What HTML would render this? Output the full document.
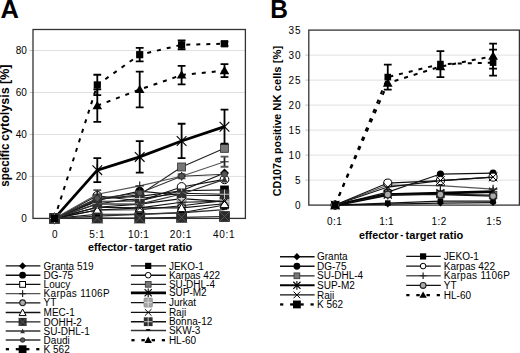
<!DOCTYPE html>
<html><head><meta charset="utf-8"><style>
html,body{margin:0;padding:0;background:#fff;}
body{width:520px;height:353px;overflow:hidden;font-family:"Liberation Sans", sans-serif;}
svg{display:block;}
</style></head><body>
<svg width="520" height="353" viewBox="0 0 520 353">
<line x1="33.0" x2="245.4" y1="176.42" y2="176.42" stroke="#e0e0e0" stroke-width="1"/>
<line x1="33.0" x2="245.4" y1="134.44" y2="134.44" stroke="#e0e0e0" stroke-width="1"/>
<line x1="33.0" x2="245.4" y1="92.47" y2="92.47" stroke="#e0e0e0" stroke-width="1"/>
<line x1="33.0" x2="245.4" y1="50.49" y2="50.49" stroke="#e0e0e0" stroke-width="1"/>
<line x1="29.5" x2="33.0" y1="176.42" y2="176.42" stroke="#c4c4c4" stroke-width="1"/>
<line x1="29.5" x2="33.0" y1="134.44" y2="134.44" stroke="#c4c4c4" stroke-width="1"/>
<line x1="29.5" x2="33.0" y1="92.47" y2="92.47" stroke="#c4c4c4" stroke-width="1"/>
<line x1="29.5" x2="33.0" y1="50.49" y2="50.49" stroke="#c4c4c4" stroke-width="1"/>
<rect x="33.0" y="29.5" width="212.4" height="188.9" fill="none" stroke="#333" stroke-width="1.3"/>
<path d="M54.5,218.4L97.3,201.19L139.7,200.98L181.6,190.69L224.5,173.06" fill="none" stroke="#111" stroke-width="1.1"/><path d="M54.5,213.9L59,218.4L54.5,222.9L50,218.4Z" fill="#000"/><path d="M97.3,196.69L101.8,201.19L97.3,205.69L92.8,201.19Z" fill="#000"/><path d="M139.7,196.48L144.2,200.98L139.7,205.48L135.2,200.98Z" fill="#000"/><path d="M181.6,186.19L186.1,190.69L181.6,195.19L177.1,190.69Z" fill="#000"/><path d="M224.5,168.56L229,173.06L224.5,177.56L220,173.06Z" fill="#000"/>
<path d="M54.5,218.4L97.3,198.46L139.7,196.36L181.6,190.69L224.5,189.86" fill="none" stroke="#111" stroke-width="1.1"/><rect x="50.16" y="214.06" width="8.68" height="8.68" fill="#000"/><rect x="92.96" y="194.12" width="8.68" height="8.68" fill="#000"/><rect x="135.36" y="192.02" width="8.68" height="8.68" fill="#000"/><rect x="177.26" y="186.35" width="8.68" height="8.68" fill="#000"/><rect x="220.16" y="185.52" width="8.68" height="8.68" fill="#000"/>
<path d="M54.5,218.4L97.3,200.56L139.7,191.11L181.6,195.31L224.5,195.52" fill="none" stroke="#111" stroke-width="1.1"/><circle cx="54.5" cy="218.4" r="4.42" fill="#000"/><circle cx="97.3" cy="200.56" r="4.42" fill="#000"/><circle cx="139.7" cy="191.11" r="4.42" fill="#000"/><circle cx="181.6" cy="195.31" r="4.42" fill="#000"/><circle cx="224.5" cy="195.52" r="4.42" fill="#000"/>
<path d="M54.5,218.4L97.3,195.73L139.7,200.98L181.6,186.92L224.5,179.36" fill="none" stroke="#111" stroke-width="1.1"/><circle cx="54.5" cy="218.4" r="4.34" fill="#fff" stroke="#000" stroke-width="1"/><circle cx="97.3" cy="195.73" r="4.34" fill="#fff" stroke="#000" stroke-width="1"/><circle cx="139.7" cy="200.98" r="4.34" fill="#fff" stroke="#000" stroke-width="1"/><circle cx="181.6" cy="186.92" r="4.34" fill="#fff" stroke="#000" stroke-width="1"/><circle cx="224.5" cy="179.36" r="4.34" fill="#fff" stroke="#000" stroke-width="1"/>
<path d="M54.5,218.4L97.3,214.2L139.7,214.2L181.6,212.73L224.5,204.97" fill="none" stroke="#111" stroke-width="1.1"/><rect x="50.73" y="214.63" width="7.54" height="7.54" fill="#fff" stroke="#000" stroke-width="1"/><rect x="93.53" y="210.43" width="7.54" height="7.54" fill="#fff" stroke="#000" stroke-width="1"/><rect x="135.93" y="210.43" width="7.54" height="7.54" fill="#fff" stroke="#000" stroke-width="1"/><rect x="177.83" y="208.96" width="7.54" height="7.54" fill="#fff" stroke="#000" stroke-width="1"/><rect x="220.73" y="201.2" width="7.54" height="7.54" fill="#fff" stroke="#000" stroke-width="1"/>
<path d="M54.5,218.4L97.3,199.51L139.7,194.68L181.6,166.98L224.5,148.3" fill="none" stroke="#222" stroke-width="1.1"/><path d="M97.3,197.83V201.19M93.4,197.83H101.2M93.4,201.19H101.2" stroke="#000" stroke-width="1.8" fill="none"/><path d="M139.7,193V196.36M135.8,193H143.6M135.8,196.36H143.6" stroke="#000" stroke-width="1.8" fill="none"/><path d="M181.6,164.46V169.5M177.7,164.46H185.5M177.7,169.5H185.5" stroke="#000" stroke-width="1.8" fill="none"/><path d="M224.5,145.15V151.45M220.6,145.15H228.4M220.6,151.45H228.4" stroke="#000" stroke-width="1.8" fill="none"/><rect x="50.5" y="214.4" width="8" height="8" fill="#777" stroke="#333" stroke-width="0.8"/><rect x="93.3" y="195.51" width="8" height="8" fill="#777" stroke="#333" stroke-width="0.8"/><rect x="135.7" y="190.68" width="8" height="8" fill="#777" stroke="#333" stroke-width="0.8"/><rect x="177.6" y="162.98" width="8" height="8" fill="#777" stroke="#333" stroke-width="0.8"/><rect x="220.5" y="144.3" width="8" height="8" fill="#777" stroke="#333" stroke-width="0.8"/>
<path d="M54.5,218.4L97.3,194.26L139.7,185.87L181.6,176.21L224.5,161.73" fill="none" stroke="#555" stroke-width="1.1"/><path d="M97.3,190.06V198.46M93.4,190.06H101.2M93.4,198.46H101.2" stroke="#555" stroke-width="1.8" fill="none"/><path d="M181.6,174.11V178.31M177.7,174.11H185.5M177.7,178.31H185.5" stroke="#555" stroke-width="1.8" fill="none"/><path d="M224.5,156.69V166.77M220.6,156.69H228.4M220.6,166.77H228.4" stroke="#555" stroke-width="1.8" fill="none"/><path d="M50.21,218.4H58.79M54.5,214.11V222.69" stroke="#222" stroke-width="1.2" fill="none"/><path d="M93.01,194.26H101.59M97.3,189.97V198.55" stroke="#222" stroke-width="1.2" fill="none"/><path d="M135.41,185.87H143.99M139.7,181.58V190.16" stroke="#222" stroke-width="1.2" fill="none"/><path d="M177.31,176.21H185.89M181.6,171.92V180.5" stroke="#222" stroke-width="1.2" fill="none"/><path d="M220.21,161.73H228.79M224.5,157.44V166.02" stroke="#222" stroke-width="1.2" fill="none"/>
<path d="M54.5,218.4L97.3,170.13L139.7,156.9L181.6,140.95L224.5,126.68" fill="none" stroke="#000" stroke-width="2.8"/><path d="M97.3,158.06V182.19M93.4,158.06H101.2M93.4,182.19H101.2" stroke="#000" stroke-width="1.8" fill="none"/><path d="M139.7,141.16V172.64M135.8,141.16H143.6M135.8,172.64H143.6" stroke="#000" stroke-width="1.8" fill="none"/><path d="M181.6,123.74V158.16M177.7,123.74H185.5M177.7,158.16H185.5" stroke="#000" stroke-width="1.8" fill="none"/><path d="M224.5,109.68V143.68M220.6,109.68H228.4M220.6,143.68H228.4" stroke="#000" stroke-width="1.8" fill="none"/><path d="M49.64,213.54L59.36,223.26M59.36,213.54L49.64,223.26M54.5,212.46V224.34" stroke="#000" stroke-width="1.1" fill="none"/><path d="M92.44,165.27L102.16,174.99M102.16,165.27L92.44,174.99M97.3,164.19V176.07" stroke="#000" stroke-width="1.1" fill="none"/><path d="M134.84,152.04L144.56,161.76M144.56,152.04L134.84,161.76M139.7,150.96V162.84" stroke="#000" stroke-width="1.1" fill="none"/><path d="M176.74,136.09L186.46,145.81M186.46,136.09L176.74,145.81M181.6,135.01V146.89" stroke="#000" stroke-width="1.1" fill="none"/><path d="M219.64,121.82L229.36,131.54M229.36,121.82L219.64,131.54M224.5,120.74V132.62" stroke="#000" stroke-width="1.1" fill="none"/>
<path d="M54.5,218.4L97.3,210L139.7,209.79L181.6,205.81L224.5,200.56" fill="none" stroke="#111" stroke-width="1.1"/><circle cx="54.5" cy="218.4" r="3.77" fill="#aaa" stroke="#222" stroke-width="1.1"/><circle cx="97.3" cy="210" r="3.77" fill="#aaa" stroke="#222" stroke-width="1.1"/><circle cx="139.7" cy="209.79" r="3.77" fill="#aaa" stroke="#222" stroke-width="1.1"/><circle cx="181.6" cy="205.81" r="3.77" fill="#aaa" stroke="#222" stroke-width="1.1"/><circle cx="224.5" cy="200.56" r="3.77" fill="#aaa" stroke="#222" stroke-width="1.1"/>
<path d="M54.5,218.4L97.3,207.28L139.7,204.13L181.6,198.67L224.5,201.61" fill="none" stroke="#111" stroke-width="1.1"/><rect x="49.96" y="213.54" width="9.07" height="9.72" rx="0.8" fill="#a4a4a4" stroke="#888" stroke-width="0.7"/><path d="M49.96,218.4H59.04M54.5,213.54V223.26" stroke="#e0e0e0" stroke-width="0.8"/><rect x="92.76" y="202.42" width="9.07" height="9.72" rx="0.8" fill="#a4a4a4" stroke="#888" stroke-width="0.7"/><path d="M92.76,207.28H101.84M97.3,202.42V212.14" stroke="#e0e0e0" stroke-width="0.8"/><rect x="135.16" y="199.27" width="9.07" height="9.72" rx="0.8" fill="#a4a4a4" stroke="#888" stroke-width="0.7"/><path d="M135.16,204.13H144.24M139.7,199.27V208.99" stroke="#e0e0e0" stroke-width="0.8"/><rect x="177.06" y="193.81" width="9.07" height="9.72" rx="0.8" fill="#a4a4a4" stroke="#888" stroke-width="0.7"/><path d="M177.06,198.67H186.14M181.6,193.81V203.53" stroke="#e0e0e0" stroke-width="0.8"/><rect x="219.96" y="196.75" width="9.07" height="9.72" rx="0.8" fill="#a4a4a4" stroke="#888" stroke-width="0.7"/><path d="M219.96,201.61H229.04M224.5,196.75V206.47" stroke="#e0e0e0" stroke-width="0.8"/>
<path d="M54.5,218.4L97.3,210L139.7,207.91L181.6,207.91L224.5,203.71" fill="none" stroke="#111" stroke-width="1.1"/><path d="M54.5,214.03L58.88,222.28L50.12,222.28Z" fill="#fff" stroke="#000" stroke-width="1"/><path d="M97.3,205.63L101.67,213.88L92.92,213.88Z" fill="#fff" stroke="#000" stroke-width="1"/><path d="M139.7,203.53L144.07,211.78L135.32,211.78Z" fill="#fff" stroke="#000" stroke-width="1"/><path d="M181.6,203.53L185.97,211.78L177.22,211.78Z" fill="#fff" stroke="#000" stroke-width="1"/><path d="M224.5,199.33L228.88,207.58L220.12,207.58Z" fill="#fff" stroke="#000" stroke-width="1"/>
<path d="M54.5,218.4L97.3,207.28L139.7,207.91L181.6,202.24L224.5,201.4" fill="none" stroke="#111" stroke-width="1.1"/><path d="M50.21,214.11L58.79,222.69M58.79,214.11L50.21,222.69" stroke="#000" stroke-width="1" fill="none"/><path d="M93.01,202.99L101.59,211.57M101.59,202.99L93.01,211.57" stroke="#000" stroke-width="1" fill="none"/><path d="M135.41,203.62L143.99,212.2M143.99,203.62L135.41,212.2" stroke="#000" stroke-width="1" fill="none"/><path d="M177.31,197.95L185.89,206.53M185.89,197.95L177.31,206.53" stroke="#000" stroke-width="1" fill="none"/><path d="M220.21,197.11L228.79,205.69M228.79,197.11L220.21,205.69" stroke="#000" stroke-width="1" fill="none"/>
<path d="M54.5,218.4L97.3,217.98L139.7,217.98L181.6,217.35L224.5,216.51" fill="none" stroke="#222" stroke-width="1.1"/><rect x="49.1" y="213" width="10.8" height="10.8" fill="#2a2a2a"/><path d="M49.1,213L59.9,223.8M59.9,213L49.1,223.8" stroke="#5a5a5a" stroke-width="0.9"/><rect x="91.9" y="212.58" width="10.8" height="10.8" fill="#2a2a2a"/><path d="M91.9,212.58L102.7,223.38M102.7,212.58L91.9,223.38" stroke="#5a5a5a" stroke-width="0.9"/><rect x="134.3" y="212.58" width="10.8" height="10.8" fill="#2a2a2a"/><path d="M134.3,212.58L145.1,223.38M145.1,212.58L134.3,223.38" stroke="#5a5a5a" stroke-width="0.9"/><rect x="176.2" y="211.95" width="10.8" height="10.8" fill="#2a2a2a"/><path d="M176.2,211.95L187,222.75M187,211.95L176.2,222.75" stroke="#5a5a5a" stroke-width="0.9"/><rect x="219.1" y="211.11" width="10.8" height="10.8" fill="#2a2a2a"/><path d="M219.1,211.11L229.9,221.91M229.9,211.11L219.1,221.91" stroke="#5a5a5a" stroke-width="0.9"/>
<path d="M54.5,218.4L97.3,203.71L139.7,198.46L181.6,193.21L224.5,194.26" fill="none" stroke="#111" stroke-width="1.1"/><rect x="49.75" y="213.65" width="9.5" height="9.5" fill="#2e2e2e"/><path d="M49.75,218.4H59.25M54.5,213.65V223.15" stroke="#eee" stroke-width="0.75"/><rect x="92.55" y="198.96" width="9.5" height="9.5" fill="#2e2e2e"/><path d="M92.55,203.71H102.05M97.3,198.96V208.46" stroke="#eee" stroke-width="0.75"/><rect x="134.95" y="193.71" width="9.5" height="9.5" fill="#2e2e2e"/><path d="M134.95,198.46H144.45M139.7,193.71V203.21" stroke="#eee" stroke-width="0.75"/><rect x="176.85" y="188.46" width="9.5" height="9.5" fill="#2e2e2e"/><path d="M176.85,193.21H186.35M181.6,188.46V197.97" stroke="#eee" stroke-width="0.75"/><rect x="219.75" y="189.51" width="9.5" height="9.5" fill="#2e2e2e"/><path d="M219.75,194.26H229.25M224.5,189.51V199.01" stroke="#eee" stroke-width="0.75"/>
<path d="M54.5,218.4L97.3,203.92L139.7,204.13L181.6,194.05L224.5,179.36" fill="none" stroke="#333" stroke-width="1.1"/><path d="M54.5,214.76L57.72,221.62L51.28,221.62Z" fill="#333"/><path d="M97.3,200.28L100.52,207.14L94.08,207.14Z" fill="#333"/><path d="M139.7,200.49L142.92,207.35L136.48,207.35Z" fill="#333"/><path d="M181.6,190.41L184.82,197.27L178.38,197.27Z" fill="#333"/><path d="M224.5,175.72L227.72,182.58L221.28,182.58Z" fill="#333"/>
<path d="M54.5,218.4L97.3,216.09L139.7,214.2L181.6,212.73L224.5,209.58" fill="none" stroke="#333" stroke-width="1.4"/><path d="M51.9,217.8H57.1" stroke="#000" stroke-width="1.6"/><path d="M94.7,215.49H99.9" stroke="#000" stroke-width="1.6"/><path d="M137.1,213.6H142.3" stroke="#000" stroke-width="1.6"/><path d="M179,212.13H184.2" stroke="#000" stroke-width="1.6"/><path d="M221.9,208.98H227.1" stroke="#000" stroke-width="1.6"/>
<path d="M54.5,218.4L97.3,198.46L139.7,193L181.6,176.21L224.5,174.32" fill="none" stroke="#333" stroke-width="1.1"/><circle cx="54.5" cy="218.4" r="2.99" fill="#555" stroke="#222" stroke-width="0.8"/><circle cx="97.3" cy="198.46" r="2.99" fill="#555" stroke="#222" stroke-width="0.8"/><circle cx="139.7" cy="193" r="2.99" fill="#555" stroke="#222" stroke-width="0.8"/><circle cx="181.6" cy="176.21" r="2.99" fill="#555" stroke="#222" stroke-width="0.8"/><circle cx="224.5" cy="174.32" r="2.99" fill="#555" stroke="#222" stroke-width="0.8"/>
<path d="M97.3,105.69L139.7,89.53L181.6,75.05L224.5,70.64" fill="none" stroke="#000" stroke-width="2.0" stroke-dasharray="4,6"/><path d="M97.3,89.42V121.96M93.4,89.42H101.2M93.4,121.96H101.2" stroke="#000" stroke-width="1.8" fill="none"/><path d="M139.7,71.69V107.37M135.8,71.69H143.6M135.8,107.37H143.6" stroke="#000" stroke-width="1.8" fill="none"/><path d="M181.6,65.81V84.28M177.7,65.81H185.5M177.7,84.28H185.5" stroke="#000" stroke-width="1.8" fill="none"/><path d="M224.5,64.13V77.14M220.6,64.13H228.4M220.6,77.14H228.4" stroke="#000" stroke-width="1.8" fill="none"/><path d="M97.3,100.88L102.11,109.2L92.49,109.2Z" fill="#000"/><path d="M139.7,84.72L144.51,93.04L134.89,93.04Z" fill="#000"/><path d="M181.6,70.24L186.41,78.56L176.79,78.56Z" fill="#000"/><path d="M224.5,65.83L229.31,74.15L219.69,74.15Z" fill="#000"/>
<path d="M54.5,218.4L97.3,84.91L139.7,54.69L181.6,44.82L224.5,43.77" fill="none" stroke="#000" stroke-width="2.0" stroke-dasharray="4,6"/><path d="M97.3,74.73V95.09M93.4,74.73H101.2M93.4,95.09H101.2" stroke="#000" stroke-width="1.8" fill="none"/><path d="M139.7,47.97V61.4M135.8,47.97H143.6M135.8,61.4H143.6" stroke="#000" stroke-width="1.8" fill="none"/><path d="M181.6,40.41V49.23M177.7,40.41H185.5M177.7,49.23H185.5" stroke="#000" stroke-width="1.8" fill="none"/><path d="M224.5,41.67V45.87M220.6,41.67H228.4M220.6,45.87H228.4" stroke="#000" stroke-width="1.8" fill="none"/><rect x="50.91" y="214.81" width="7.18" height="7.18" fill="#000"/><rect x="93.71" y="81.32" width="7.18" height="7.18" fill="#000"/><rect x="136.11" y="51.1" width="7.18" height="7.18" fill="#000"/><rect x="178.01" y="41.23" width="7.18" height="7.18" fill="#000"/><rect x="220.91" y="40.18" width="7.18" height="7.18" fill="#000"/>
<line x1="308.8" x2="519.4" y1="180.1" y2="180.1" stroke="#e0e0e0" stroke-width="1"/>
<line x1="308.8" x2="519.4" y1="155.1" y2="155.1" stroke="#e0e0e0" stroke-width="1"/>
<line x1="308.8" x2="519.4" y1="130.1" y2="130.1" stroke="#e0e0e0" stroke-width="1"/>
<line x1="308.8" x2="519.4" y1="105.1" y2="105.1" stroke="#e0e0e0" stroke-width="1"/>
<line x1="308.8" x2="519.4" y1="80.1" y2="80.1" stroke="#e0e0e0" stroke-width="1"/>
<line x1="308.8" x2="519.4" y1="55.1" y2="55.1" stroke="#e0e0e0" stroke-width="1"/>
<line x1="305.3" x2="308.8" y1="180.1" y2="180.1" stroke="#c4c4c4" stroke-width="1"/>
<line x1="305.3" x2="308.8" y1="155.1" y2="155.1" stroke="#c4c4c4" stroke-width="1"/>
<line x1="305.3" x2="308.8" y1="130.1" y2="130.1" stroke="#c4c4c4" stroke-width="1"/>
<line x1="305.3" x2="308.8" y1="105.1" y2="105.1" stroke="#c4c4c4" stroke-width="1"/>
<line x1="305.3" x2="308.8" y1="80.1" y2="80.1" stroke="#c4c4c4" stroke-width="1"/>
<line x1="305.3" x2="308.8" y1="55.1" y2="55.1" stroke="#c4c4c4" stroke-width="1"/>
<rect x="308.8" y="30.1" width="210.6" height="175" fill="none" stroke="#333" stroke-width="1.3"/>
<path d="M335.12,205.1L387.77,203.1L440.42,201.1L493.07,201.1" fill="none" stroke="#111" stroke-width="1.1"/><rect x="332.33" y="202.31" width="5.58" height="5.58" fill="#000"/><rect x="384.98" y="200.31" width="5.58" height="5.58" fill="#000"/><rect x="437.63" y="198.31" width="5.58" height="5.58" fill="#000"/><rect x="490.28" y="198.31" width="5.58" height="5.58" fill="#000"/>
<path d="M335.12,205.1L387.77,192.1L440.42,174.1L493.07,173.1" fill="none" stroke="#111" stroke-width="1.1"/><circle cx="335.12" cy="205.1" r="3.57" fill="#000"/><circle cx="387.77" cy="192.1" r="3.57" fill="#000"/><circle cx="440.42" cy="174.1" r="3.57" fill="#000"/><circle cx="493.07" cy="173.1" r="3.57" fill="#000"/>
<path d="M335.12,205.1L387.77,204.1L440.42,203.1L493.07,202.6" fill="none" stroke="#111" stroke-width="1.1"/><path d="M335.12,201.68L338.55,205.1L335.12,208.52L331.7,205.1Z" fill="#000"/><path d="M387.77,200.68L391.19,204.1L387.77,207.52L384.35,204.1Z" fill="#000"/><path d="M440.42,199.68L443.84,203.1L440.42,206.52L437,203.1Z" fill="#000"/><path d="M493.07,199.18L496.5,202.6L493.07,206.02L489.65,202.6Z" fill="#000"/>
<path d="M335.12,205.1L387.77,193.6L440.42,194.1L493.07,195.1" fill="none" stroke="#222" stroke-width="1.1"/><rect x="331.36" y="201.33" width="7.54" height="7.54" fill="#777" stroke="#333" stroke-width="0.8"/><rect x="384" y="189.83" width="7.54" height="7.54" fill="#777" stroke="#333" stroke-width="0.8"/><rect x="436.65" y="190.33" width="7.54" height="7.54" fill="#777" stroke="#333" stroke-width="0.8"/><rect x="489.31" y="191.33" width="7.54" height="7.54" fill="#777" stroke="#333" stroke-width="0.8"/>
<path d="M335.12,205.1L387.77,194.6L440.42,193.1L493.07,191.6" fill="none" stroke="#000" stroke-width="2.8"/><path d="M331.17,201.14L339.08,209.06M339.08,201.14L331.17,209.06M335.12,200.26V209.94" stroke="#000" stroke-width="1.1" fill="none"/><path d="M383.81,190.64L391.73,198.56M391.73,190.64L383.81,198.56M387.77,189.76V199.44" stroke="#000" stroke-width="1.1" fill="none"/><path d="M436.46,189.14L444.38,197.06M444.38,189.14L436.46,197.06M440.42,188.26V197.94" stroke="#000" stroke-width="1.1" fill="none"/><path d="M489.12,187.64L497.03,195.56M497.03,187.64L489.12,195.56M493.07,186.76V196.44" stroke="#000" stroke-width="1.1" fill="none"/>
<path d="M335.12,205.1L387.77,194.6L440.42,194.6L493.07,196.1" fill="none" stroke="#111" stroke-width="1.1"/><circle cx="335.12" cy="205.1" r="3.33" fill="#aaa" stroke="#222" stroke-width="1.1"/><circle cx="387.77" cy="194.6" r="3.33" fill="#aaa" stroke="#222" stroke-width="1.1"/><circle cx="440.42" cy="194.6" r="3.33" fill="#aaa" stroke="#222" stroke-width="1.1"/><circle cx="493.07" cy="196.1" r="3.33" fill="#aaa" stroke="#222" stroke-width="1.1"/>
<path d="M335.12,205.1L387.77,185.1L440.42,185.6L493.07,189.1" fill="none" stroke="#555" stroke-width="1.1"/><path d="M330.83,205.1H339.42M335.12,200.81V209.39" stroke="#222" stroke-width="1.2" fill="none"/><path d="M383.48,185.1H392.06M387.77,180.81V189.39" stroke="#222" stroke-width="1.2" fill="none"/><path d="M436.13,185.6H444.71M440.42,181.31V189.89" stroke="#222" stroke-width="1.2" fill="none"/><path d="M488.78,189.1H497.37M493.07,184.81V193.39" stroke="#222" stroke-width="1.2" fill="none"/>
<path d="M335.12,205.1L387.77,183.1L440.42,180.6L493.07,177.1" fill="none" stroke="#111" stroke-width="1.1"/><circle cx="335.12" cy="205.1" r="4.06" fill="#fff" stroke="#000" stroke-width="1"/><circle cx="387.77" cy="183.1" r="4.06" fill="#fff" stroke="#000" stroke-width="1"/><circle cx="440.42" cy="180.6" r="4.06" fill="#fff" stroke="#000" stroke-width="1"/><circle cx="493.07" cy="177.1" r="4.06" fill="#fff" stroke="#000" stroke-width="1"/>
<path d="M335.12,205.1L387.77,187.1L440.42,180.6L493.07,177.1" fill="none" stroke="#111" stroke-width="1.1"/><path d="M330.83,200.81L339.42,209.39M339.42,200.81L330.83,209.39" stroke="#000" stroke-width="1" fill="none"/><path d="M383.48,182.81L392.06,191.39M392.06,182.81L383.48,191.39" stroke="#000" stroke-width="1" fill="none"/><path d="M436.13,176.31L444.71,184.89M444.71,176.31L436.13,184.89" stroke="#000" stroke-width="1" fill="none"/><path d="M488.78,172.81L497.37,181.39M497.37,172.81L488.78,181.39" stroke="#000" stroke-width="1" fill="none"/>
<path d="M335.12,205.1L387.77,77.1L440.42,64.1L493.07,62.6" fill="none" stroke="#000" stroke-width="2.0" stroke-dasharray="4,6"/><path d="M387.77,64.6V89.6M383.88,64.6H391.67M383.88,89.6H391.67" stroke="#000" stroke-width="1.8" fill="none"/><path d="M440.42,51.1V77.1M436.52,51.1H444.32M436.52,77.1H444.32" stroke="#000" stroke-width="1.8" fill="none"/><path d="M493.07,49.6V75.6M489.18,49.6H496.97M489.18,75.6H496.97" stroke="#000" stroke-width="1.8" fill="none"/><rect x="331.81" y="201.78" width="6.63" height="6.63" fill="#000"/><rect x="384.46" y="73.78" width="6.63" height="6.63" fill="#000"/><rect x="437.11" y="60.78" width="6.63" height="6.63" fill="#000"/><rect x="489.76" y="59.28" width="6.63" height="6.63" fill="#000"/>
<path d="M335.12,205.1L387.77,83.1L440.42,66.6L493.07,56.1" fill="none" stroke="#000" stroke-width="2.0" stroke-dasharray="4,6"/><path d="M493.07,43.6V68.6M489.18,43.6H496.97M489.18,68.6H496.97" stroke="#000" stroke-width="1.8" fill="none"/><path d="M335.12,200.22L340.01,208.66L330.24,208.66Z" fill="#000"/><path d="M387.77,78.22L392.66,86.66L382.89,86.66Z" fill="#000"/><path d="M440.42,61.72L445.31,70.16L435.54,70.16Z" fill="#000"/><path d="M493.07,51.22L497.96,59.66L488.19,59.66Z" fill="#000"/>
<g font-family='"Liberation Sans", sans-serif' fill="#000">
<text transform="translate(0.5,17.9) scale(1.04,1.07)" font-size="24.5" font-weight="bold">A</text>
<text transform="translate(270.3,17.9) scale(1.0,1.07)" font-size="24.5" font-weight="bold">B</text>
<text x="26.8" y="222" font-size="10" text-anchor="end">0</text>
<text x="26.8" y="180.02" font-size="10" text-anchor="end">20</text>
<text x="26.8" y="138.04" font-size="10" text-anchor="end">40</text>
<text x="26.8" y="96.07" font-size="10" text-anchor="end">60</text>
<text x="26.8" y="54.09" font-size="10" text-anchor="end">80</text>
<text x="54.85" y="237.7" font-size="10" text-anchor="middle">0</text>
<text x="96.95" y="237.7" font-size="10" text-anchor="middle" textLength="15.2" lengthAdjust="spacing">5:1</text>
<text x="138.5" y="237.7" font-size="10" text-anchor="middle" textLength="20.8" lengthAdjust="spacing">10:1</text>
<text x="180.5" y="237.7" font-size="10" text-anchor="middle" textLength="21.6" lengthAdjust="spacing">20:1</text>
<text x="223.8" y="237.7" font-size="10" text-anchor="middle" textLength="21.6" lengthAdjust="spacing">40:1</text>
<text x="88.1" y="250.8" font-size="11" font-weight="bold" textLength="39.3" lengthAdjust="spacingAndGlyphs">effector</text><text x="129.3" y="249.7" font-size="11" font-weight="bold" textLength="3" lengthAdjust="spacingAndGlyphs">-</text><text x="134.6" y="250.8" font-size="11" font-weight="bold" textLength="57.6" lengthAdjust="spacingAndGlyphs">target ratio</text>
<text transform="translate(9.4,186.8) rotate(-90)" font-size="12" font-weight="bold" textLength="43.2" lengthAdjust="spacingAndGlyphs">specific</text>
<text transform="translate(9.4,140.9) rotate(-90)" font-size="12" font-weight="bold" textLength="76.4" lengthAdjust="spacingAndGlyphs">cytolysis [%]</text>
<text x="300.6" y="208.7" font-size="10" text-anchor="end">0</text>
<text x="300.6" y="183.7" font-size="10" text-anchor="end">5</text>
<text x="300.6" y="158.7" font-size="10" text-anchor="end" textLength="12" lengthAdjust="spacing">10</text>
<text x="300.6" y="133.7" font-size="10" text-anchor="end" textLength="12" lengthAdjust="spacing">15</text>
<text x="300.6" y="108.7" font-size="10" text-anchor="end" textLength="12" lengthAdjust="spacing">20</text>
<text x="300.6" y="83.7" font-size="10" text-anchor="end" textLength="12" lengthAdjust="spacing">25</text>
<text x="300.6" y="58.7" font-size="10" text-anchor="end" textLength="12" lengthAdjust="spacing">30</text>
<text x="300.6" y="33.7" font-size="10" text-anchor="end" textLength="12" lengthAdjust="spacing">35</text>
<text x="334.4" y="225" font-size="10" text-anchor="middle" textLength="14.6" lengthAdjust="spacing">0:1</text>
<text x="386.4" y="225" font-size="10" text-anchor="middle" textLength="14.2" lengthAdjust="spacing">1:1</text>
<text x="438.9" y="225" font-size="10" text-anchor="middle" textLength="14.6" lengthAdjust="spacing">1:2</text>
<text x="493.8" y="225" font-size="10" text-anchor="middle" textLength="15.2" lengthAdjust="spacing">1:5</text>
<text x="359.1" y="238.9" font-size="11" font-weight="bold" textLength="39.3" lengthAdjust="spacingAndGlyphs">effector</text><text x="400.3" y="237.8" font-size="11" font-weight="bold" textLength="3" lengthAdjust="spacingAndGlyphs">-</text><text x="405.6" y="238.9" font-size="11" font-weight="bold" textLength="57.6" lengthAdjust="spacingAndGlyphs">target ratio</text>
<text transform="translate(280.5,196.3) rotate(-90)" font-size="10.8" font-weight="bold" textLength="82.6" lengthAdjust="spacingAndGlyphs">CD107a positive</text>
<text transform="translate(280.5,110.7) rotate(-90)" font-size="10.8" font-weight="bold" textLength="64.9" lengthAdjust="spacingAndGlyphs">NK cells [%]</text>
</g>
<g font-family='"Liberation Sans", sans-serif' fill="#000">
<path d="M5.7,265.9H40.4" stroke="#111" stroke-width="1.35"/><path d="M22.6,262.3L26.2,265.9L22.6,269.5L19,265.9Z" fill="#000"/><text x="43.6" y="269.5" font-size="10">Granta 519</text>
<path d="M5.7,275.2H40.4" stroke="#111" stroke-width="1.35"/><circle cx="22.6" cy="275.2" r="3.4" fill="#000"/><text x="43.6" y="278.8" font-size="10">DG-75</text>
<path d="M5.7,284.4H40.4" stroke="#111" stroke-width="1.35"/><rect x="19.7" y="281.5" width="5.8" height="5.8" fill="#fff" stroke="#000" stroke-width="1"/><text x="43.6" y="288" font-size="10">Loucy</text>
<path d="M5.7,293.6H40.4" stroke="#555" stroke-width="1.35"/><path d="M19.3,293.6H25.9M22.6,290.3V296.9" stroke="#222" stroke-width="1.2" fill="none"/><text x="43.6" y="297.2" font-size="10" textLength="66" lengthAdjust="spacing">Karpas 1106P</text>
<path d="M5.7,302.8H40.4" stroke="#111" stroke-width="1.35"/><circle cx="22.6" cy="302.8" r="2.9" fill="#aaa" stroke="#222" stroke-width="1.1"/><text x="43.6" y="306.4" font-size="10">YT</text>
<path d="M5.7,312.5H40.4" stroke="#111" stroke-width="1.35"/><path d="M22.6,309L26.1,315.6L19.1,315.6Z" fill="#fff" stroke="#000" stroke-width="1"/><text x="43.6" y="316.1" font-size="10">MEC-1</text>
<path d="M5.7,321.9H40.4" stroke="#222" stroke-width="1.35"/><rect x="18.6" y="317.9" width="8" height="8" fill="#2a2a2a"/><path d="M18.6,317.9L26.6,325.9M26.6,317.9L18.6,325.9" stroke="#5a5a5a" stroke-width="0.9"/><text x="43.6" y="325.5" font-size="10">DOHH-2</text>
<path d="M5.7,331H40.4" stroke="#333" stroke-width="1.35"/><path d="M22.6,328.4L24.9,333.3L20.3,333.3Z" fill="#333"/><text x="43.6" y="334.6" font-size="10">SU-DHL-1</text>
<path d="M5.7,340H40.4" stroke="#333" stroke-width="1.35"/><circle cx="22.6" cy="340" r="2.3" fill="#555" stroke="#222" stroke-width="0.8"/><text x="43.6" y="343.6" font-size="10">Daudi</text>
<path d="M5.8,349.2H9" stroke="#000" stroke-width="2.3"/><path d="M15.8,349.2H19.2" stroke="#000" stroke-width="2.3"/><path d="M26,349.2H29.4" stroke="#000" stroke-width="2.3"/><path d="M36.2,349.2H39.4" stroke="#000" stroke-width="2.3"/><rect x="18.7" y="345.3" width="7.8" height="7.8" fill="#000"/><text x="43.6" y="352.8" font-size="10">K 562</text>
<path d="M130.9,265.9H166" stroke="#111" stroke-width="1.35"/><rect x="145.1" y="262.8" width="6.2" height="6.2" fill="#000"/><text x="168.9" y="269.5" font-size="10">JEKO-1</text>
<path d="M130.9,275.2H166" stroke="#111" stroke-width="1.35"/><circle cx="148.2" cy="275.2" r="2.8" fill="#fff" stroke="#000" stroke-width="1"/><text x="168.9" y="278.8" font-size="10">Karpas 422</text>
<path d="M130.9,284.3H166" stroke="#222" stroke-width="1.35"/><rect x="145.3" y="281.4" width="5.8" height="5.8" fill="#777" stroke="#333" stroke-width="0.8"/><text x="168.9" y="287.9" font-size="10">SU-DHL-4</text>
<path d="M130.9,292.8H166" stroke="#000" stroke-width="2.8"/><path d="M144.6,289.2L151.8,296.4M151.8,289.2L144.6,296.4M148.2,288.4V297.2" stroke="#000" stroke-width="1.1" fill="none"/><text x="168.9" y="296.4" font-size="10">SUP-M2</text>
<path d="M130.9,302.6H166" stroke="#111" stroke-width="1.35"/><rect x="144" y="298.1" width="8.4" height="9" rx="0.8" fill="#a4a4a4" stroke="#888" stroke-width="0.7"/><path d="M144,302.6H152.4M148.2,298.1V307.1" stroke="#e0e0e0" stroke-width="0.8"/><text x="168.9" y="306.2" font-size="10">Jurkat</text>
<path d="M130.9,312.4H166" stroke="#111" stroke-width="1.35"/><path d="M144.9,309.1L151.5,315.7M151.5,309.1L144.9,315.7" stroke="#000" stroke-width="1" fill="none"/><text x="168.9" y="316" font-size="10">Raji</text>
<path d="M130.9,321.7H166" stroke="#111" stroke-width="1.35"/><rect x="143.8" y="317.3" width="8.8" height="8.8" fill="#2e2e2e"/><path d="M143.8,321.7H152.6M148.2,317.3V326.1" stroke="#eee" stroke-width="0.75"/><text x="168.9" y="325.3" font-size="10">Bonna-12</text>
<path d="M130.9,330.5H166" stroke="#333" stroke-width="1.35"/><path d="M146.2,329.9H150.2" stroke="#000" stroke-width="1.6"/><text x="168.9" y="334.1" font-size="10">SKW-3</text>
<path d="M131.4,340.2H134.6" stroke="#000" stroke-width="2.3"/><path d="M141.4,340.2H144.8" stroke="#000" stroke-width="2.3"/><path d="M151.6,340.2H155" stroke="#000" stroke-width="2.3"/><path d="M161.8,340.2H165" stroke="#000" stroke-width="2.3"/><path d="M148.2,336.5L151.9,342.9L144.5,342.9Z" fill="#000"/><text x="168.9" y="343.8" font-size="10">HL-60</text>
<path d="M280,256.7H314.6" stroke="#111" stroke-width="1.35"/><path d="M296.9,253.1L300.5,256.7L296.9,260.3L293.3,256.7Z" fill="#000"/><text x="317" y="260.3" font-size="10">Granta</text>
<path d="M280,266.25H314.6" stroke="#111" stroke-width="1.35"/><circle cx="296.9" cy="266.25" r="3.4" fill="#000"/><text x="317" y="269.85" font-size="10">DG-75</text>
<path d="M280,275.8H314.6" stroke="#222" stroke-width="1.35"/><rect x="294" y="272.9" width="5.8" height="5.8" fill="#777" stroke="#333" stroke-width="0.8"/><text x="317" y="279.4" font-size="10">SU-DHL-4</text>
<path d="M280,285.35H314.6" stroke="#000" stroke-width="2.0"/><path d="M293.3,281.75L300.5,288.95M300.5,281.75L293.3,288.95M296.9,280.95V289.75" stroke="#000" stroke-width="1.1" fill="none"/><text x="317" y="288.95" font-size="10">SUP-M2</text>
<path d="M280,294.9H314.6" stroke="#111" stroke-width="1.35"/><path d="M293.6,291.6L300.2,298.2M300.2,291.6L293.6,298.2" stroke="#000" stroke-width="1" fill="none"/><text x="317" y="298.5" font-size="10">Raji</text>
<path d="M280.1,304.45H283.3" stroke="#000" stroke-width="2.3"/><path d="M290.1,304.45H293.5" stroke="#000" stroke-width="2.3"/><path d="M300.3,304.45H303.7" stroke="#000" stroke-width="2.3"/><path d="M310.5,304.45H313.7" stroke="#000" stroke-width="2.3"/><rect x="293" y="300.55" width="7.8" height="7.8" fill="#000"/><text x="317" y="308.05" font-size="10">K 562</text>
<path d="M406.2,256.4H440.8" stroke="#111" stroke-width="1.35"/><rect x="420" y="253.3" width="6.2" height="6.2" fill="#000"/><text x="443.8" y="260" font-size="10">JEKO-1</text>
<path d="M406.2,266.08H440.8" stroke="#111" stroke-width="1.35"/><circle cx="423.1" cy="266.08" r="2.8" fill="#fff" stroke="#000" stroke-width="1"/><text x="443.8" y="269.68" font-size="10">Karpas 422</text>
<path d="M406.2,275.76H440.8" stroke="#555" stroke-width="1.35"/><path d="M419.8,275.76H426.4M423.1,272.46V279.06" stroke="#222" stroke-width="1.2" fill="none"/><text x="443.8" y="279.36" font-size="10" textLength="66" lengthAdjust="spacing">Karpas 1106P</text>
<path d="M406.2,285.44H440.8" stroke="#111" stroke-width="1.35"/><circle cx="423.1" cy="285.44" r="2.9" fill="#aaa" stroke="#222" stroke-width="1.1"/><text x="443.8" y="289.04" font-size="10">YT</text>
<path d="M406.3,295.12H409.5" stroke="#000" stroke-width="2.3"/><path d="M416.3,295.12H419.7" stroke="#000" stroke-width="2.3"/><path d="M426.5,295.12H429.9" stroke="#000" stroke-width="2.3"/><path d="M436.7,295.12H439.9" stroke="#000" stroke-width="2.3"/><path d="M423.1,291.42L426.8,297.82L419.4,297.82Z" fill="#000"/><text x="443.8" y="298.72" font-size="10">HL-60</text>
</g>
</svg>
</body></html>
